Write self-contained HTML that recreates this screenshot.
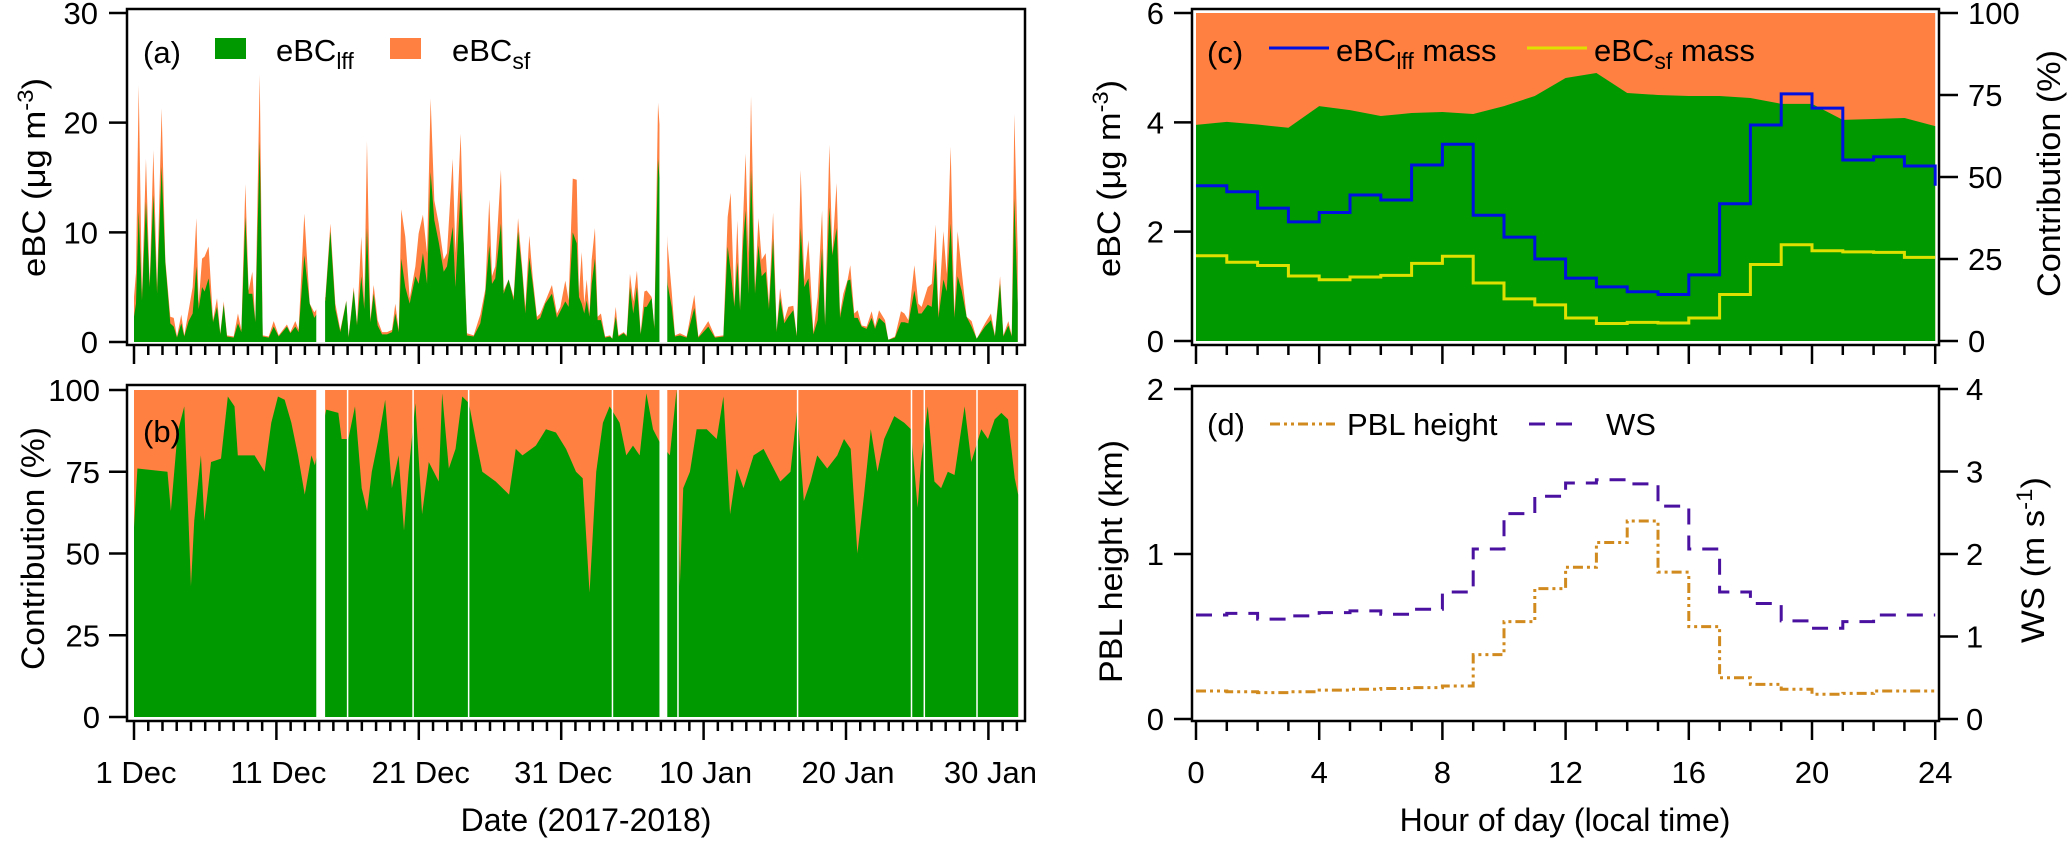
<!DOCTYPE html>
<html><head><meta charset="utf-8"><style>
html,body{margin:0;padding:0;background:#fff;}
svg{display:block;font-family:"Liberation Sans",Arial,sans-serif;}
</style></head><body>
<svg id="fig" width="2067" height="841" viewBox="0 0 2067 841" xmlns="http://www.w3.org/2000/svg">
<g id="layer"></g>
</svg>
<script>
// ---------- data ----------
const aDays = [0.0,0.14,0.33,0.56,0.84,1.10,1.36,1.62,1.94,2.20,2.55,2.79,3.02,3.32,3.53,3.84,4.12,4.38,4.54,4.78,4.96,5.24,5.55,5.83,6.06,6.30,6.53,7.00,7.30,7.54,7.82,8.05,8.31,8.52,8.83,9.04,9.46,9.81,10.16,10.74,10.98,11.33,11.56,11.96,12.34,12.66,
13.44,13.79,14.14,14.49,14.91,15.07,15.43,15.66,15.96,16.17,16.36,16.60,16.83,17.11,17.42,17.77,18.12,18.35,18.59,18.77,19.05,19.36,19.76,19.99,20.29,20.58,20.83,21.09,21.40,21.75,21.98,22.38,22.57,22.94,23.15,23.38,23.85,24.32,24.67,24.95,25.14,25.37,25.77,25.96,26.31,26.66,26.97,27.25,27.48,27.76,28.00,28.30,28.53,28.88,29.35,29.70,29.94,30.29,30.52,30.81,
31.09,31.25,31.44,31.62,31.79,31.98,32.14,32.37,32.56,32.79,33.08,33.43,33.59,33.83,34.02,34.39,34.60,34.83,35.06,35.32,35.58,35.84,36.00,36.35,36.54,36.80,
37.48,37.76,37.99,38.34,38.81,39.35,39.63,40.33,40.80,41.39,41.69,41.90,42.16,42.37,42.56,42.79,42.95,43.14,43.33,43.61,43.85,44.08,44.36,44.59,44.88,45.13,45.37,45.67,45.95,46.30,46.54,46.82,47.07,47.36,47.71,48.01,48.32,48.53,48.83,49.04,49.34,49.58,49.81,50.12,50.30,50.58,50.82,51.10,51.45,51.80,52.04,52.32,52.74,52.97,53.44,53.86,54.10,54.38,54.80,55.08,55.31,55.74,56.02,56.30,56.49,56.84,57.07,57.35,57.61,57.84,58.12,58.47,58.82,59.18,59.76,60.18,60.46,60.82,61.05,61.40,61.64,61.82,62.06];
const aTotal = [4.1,6.3,23.4,4.4,16.7,5.3,17.5,5.0,21.3,7.5,2.3,2.2,0.5,2.5,0.6,2.9,5.0,11.3,3.5,7.6,7.8,8.7,2.0,4.0,0.8,3.7,0.6,0.5,2.6,1.1,14.4,4.7,6.4,2.0,24.4,0.6,0.5,1.9,0.6,1.6,0.9,1.9,1.1,11.7,3.5,2.7,
4.1,10.8,3.5,1.1,3.8,0.5,5.0,1.7,9.6,3.5,18.3,2.0,5.2,2.0,0.9,0.9,1.1,3.5,1.1,12.1,9.6,4.0,6.9,9.9,11.6,8.1,22.2,12.9,10.8,7.5,8.1,16.7,8.1,19.0,9.3,0.8,0.6,2.5,4.8,13.0,6.0,6.9,15.7,4.7,5.7,4.1,11.3,7.0,3.2,9.7,5.9,2.3,2.6,3.7,5.2,2.6,3.2,5.6,3.8,14.9,
14.8,4.4,8.2,3.5,5.7,2.6,7.5,10.4,2.3,2.6,0.5,0.6,0.3,3.2,0.6,0.9,0.6,6.2,3.7,6.5,0.8,4.6,4.7,4.1,1.4,21.8,
8.8,4.6,0.6,0.8,0.5,4.3,0.5,1.9,0.5,0.6,11.4,13.6,3.5,11.1,3.2,11.8,17.2,8.1,22.4,5.0,11.3,7.5,8.1,3.5,11.8,1.1,4.9,2.0,3.2,3.3,0.6,15.7,5.6,9.3,0.9,4.1,12.0,1.7,18.0,8.1,14.5,2.6,4.4,5.7,7.0,2.6,2.9,1.5,1.4,2.8,1.4,2.9,2.0,0.2,0.5,2.8,2.6,2.0,7.0,3.5,3.2,5.0,5.3,10.7,2.6,10.1,6.2,17.8,2.6,10.1,6.5,2.3,1.9,0.3,1.7,2.6,0.6,6.0,0.6,1.9,0.6,20.8,8.1];
const aLff = [2.3,3.5,11.9,3.8,12.8,5.0,13.4,4.4,16.0,7.2,1.7,1.4,0.4,1.7,0.5,1.9,2.6,6.9,3.0,5.0,4.6,5.8,1.8,3.2,0.7,3.4,0.5,0.4,1.7,0.9,11.4,4.4,4.4,1.8,18.3,0.5,0.4,1.4,0.5,1.4,0.8,1.4,0.9,7.9,3.5,2.2,
3.8,10.1,3.0,0.9,3.7,0.4,4.7,1.5,6.0,3.0,10.4,1.8,4.4,1.5,0.7,0.7,0.9,2.6,0.9,7.6,5.0,3.5,6.0,5.3,8.1,5.3,15.5,11.1,9.1,6.4,6.9,10.5,5.0,13.9,9.0,0.6,0.5,1.7,4.4,8.8,5.3,5.8,10.8,4.4,5.7,3.8,10.1,6.5,2.6,7.7,5.3,2.0,2.2,3.5,4.4,2.2,2.8,3.7,3.2,10.0,
9.0,4.1,3.5,2.6,3.8,2.3,5.3,7.6,2.0,2.0,0.4,0.5,0.3,2.3,0.5,0.8,0.5,5.0,2.6,5.0,0.7,3.2,3.2,4.0,1.2,16.7,
5.2,3.2,0.5,0.6,0.4,3.1,0.4,1.4,0.4,0.5,8.7,6.5,3.2,7.3,2.9,9.3,12.0,4.4,15.7,4.4,8.8,6.0,6.4,3.0,9.4,0.9,4.0,1.7,2.3,2.9,0.5,10.4,5.0,5.8,0.7,2.0,8.5,1.5,12.3,7.9,10.4,2.2,3.7,5.6,5.7,2.2,2.2,1.4,1.2,2.2,1.2,2.2,1.7,0.2,0.4,1.8,1.8,1.7,4.7,2.6,2.6,3.4,3.2,7.6,2.2,5.7,4.6,10.8,2.2,6.0,4.7,2.3,1.4,0.3,1.4,2.0,0.5,5.3,0.5,1.5,0.5,13.1,3.5];
const bDays = [0.0,0.24,2.35,2.59,3.06,3.53,4.0,4.23,4.70,4.94,5.41,6.11,6.59,7.06,7.29,8.47,9.17,9.64,10.11,10.58,11.05,11.52,11.99,12.46,12.70,13.50,14.35,14.58,15.05,15.52,15.99,16.37,16.70,17.17,17.64,18.11,18.58,18.96,19.28,19.76,20.23,20.70,21.40,21.64,22.11,22.58,23.05,23.52,23.99,24.46,25.40,26.34,26.81,27.28,28.22,28.93,29.63,30.34,31.04,31.51,31.99,32.46,32.93,33.40,34.10,34.57,35.04,35.51,35.98,36.45,36.92,37.63,38.10,38.33,38.57,39.04,39.51,40.22,40.92,41.39,41.86,42.33,42.80,43.51,44.21,44.68,45.39,46.10,46.57,47.04,47.51,47.98,48.68,49.39,49.86,50.33,50.80,51.27,51.74,52.21,52.68,53.39,54.09,54.56,55.03,55.27,55.74,56.21,56.68,57.15,57.62,58.33,58.80,59.50,59.97,60.44,60.91,61.38,61.85,62.09];
const bLff = [58,76,75,63,87,95,40,60,80,60,78,79,98,95,80,80,75,90,98,97,90,80,68,80,77,94,93,85,85,95,70,63,75,85,97,70,80,57,75,96,62,78,72,99,76,82,98,96,85,75,72,68,82,80,83,88,87,82,75,73,38,75,90,95,90,80,83,80,99,88,84,80,100,40,70,75,88,88,85,98,62,76,70,80,82,78,72,75,94,66,72,80,76,80,85,82,50,68,88,75,85,92,90,88,64,78,95,72,70,75,74,95,78,88,85,91,93,91,73,68];
const gaps = [[12.8,13.42],[36.9,37.45]];
const whiteLines = [15.0,19.6,23.5,33.6,38.2,46.6,54.6,55.5,59.2];
const dateTicks = ["1 Dec","11 Dec","21 Dec","31 Dec","10 Jan","20 Jan","30 Jan"];
const hours = [0,1,2,3,4,5,6,7,8,9,10,11,12,13,14,15,16,17,18,19,20,21,22,23];
const cLffMass = [2.84,2.73,2.43,2.18,2.35,2.67,2.58,3.22,3.60,2.30,1.90,1.50,1.15,0.99,0.90,0.85,1.21,2.51,3.95,4.52,4.26,3.31,3.37,3.20];
const cSfMass = [1.56,1.44,1.38,1.19,1.12,1.17,1.20,1.42,1.55,1.06,0.77,0.66,0.42,0.32,0.34,0.33,0.42,0.85,1.40,1.76,1.65,1.63,1.62,1.53];
const cLffPct = [65.9,66.8,66.0,65.0,71.6,70.4,68.6,69.5,69.8,69.2,71.6,74.7,80.2,81.7,75.6,75.0,74.7,74.7,74.1,72.3,72.3,67.4,67.7,68.0,65.5];
const dPbl = [0.17,0.165,0.16,0.165,0.175,0.18,0.185,0.19,0.20,0.39,0.59,0.79,0.92,1.07,1.20,0.89,0.56,0.25,0.21,0.18,0.15,0.155,0.17,0.17];
const dWs = [1.26,1.28,1.21,1.25,1.29,1.31,1.27,1.33,1.54,2.06,2.49,2.70,2.86,2.90,2.85,2.58,2.06,1.54,1.40,1.19,1.10,1.18,1.26,1.26];
const aTicks = [0,10,20,30];
const bTicks = [0,25,50,75,100];
const cTicks = [0,2,4,6];
const dTicks = [0,1,2];
const wsTicks = [0,1,2,3,4];
const hourTicks = [0,4,8,12,16,20,24];

// ---------- scales ----------
const xa = d => 134 + d*14.24;
const ya = v => 342 - v*10.967;
const yb = p => 717 - p*3.27;
const xc = h => 1196 + h*30.8;
const yc = v => 341 - v*54.67;
const ycp = p => 341 - p*3.28;
const yd = v => 719 - v*165;
const yw = v => 719 - v*82.5;

const NS = "http://www.w3.org/2000/svg";
const L = document.getElementById('layer');
function mk(tag, attrs, parent){ const e=document.createElementNS(NS,tag); for(const k in attrs) e.setAttribute(k,attrs[k]); (parent||L).appendChild(e); return e; }
const GREEN="#009900", ORANGE="#ff8040";

// ---------- panel a ----------
let pts = [xa(aDays[0])+","+ya(0)];
for(let i=0;i<aDays.length;i++) pts.push(xa(aDays[i])+","+ya(aTotal[i]));
pts.push(xa(aDays[aDays.length-1])+","+ya(0));
let e = mk('polygon',{points:pts.join(' '),fill:ORANGE});


pts = [xa(aDays[0])+","+ya(0)];
for(let i=0;i<aDays.length;i++) pts.push(xa(aDays[i])+","+ya(aLff[i]));
pts.push(xa(aDays[aDays.length-1])+","+ya(0));
e = mk('polygon',{points:pts.join(' '),fill:GREEN});


gaps.forEach(g=>{
  const r = mk('rect',{x:xa(g[0]),y:12,width:xa(g[1])-xa(g[0]),height:331,fill:'#fff'});
  
  
});

// ---------- panel b ----------
e = mk('rect',{x:xa(0),y:yb(100),width:xa(62.09)-xa(0),height:yb(0)-yb(100),fill:ORANGE});


pts = [xa(bDays[0])+","+yb(0)];
for(let i=0;i<bDays.length;i++) pts.push(xa(bDays[i])+","+yb(bLff[i]));
pts.push(xa(bDays[bDays.length-1])+","+yb(0));
e = mk('polygon',{points:pts.join(' '),fill:GREEN});


gaps.forEach(g=>{
  const r = mk('rect',{x:xa(g[0]),y:388,width:xa(g[1])-xa(g[0]),height:331,fill:'#fff'});
  
  
});
whiteLines.forEach(d=>{
  const l = mk('line',{x1:xa(d),x2:xa(d),y1:yb(100),y2:yb(0),stroke:'#fff','stroke-width':1.5});
  
  
});

// ---------- panel c ----------
e = mk('rect',{x:xc(0),y:ycp(100),width:xc(24)-xc(0),height:ycp(0)-ycp(100),fill:ORANGE});


pts = [xc(0)+","+ycp(0)];
cLffPct.forEach((p,i)=>pts.push(xc(i)+","+ycp(p)));
pts.push(xc(24)+","+ycp(0));
e = mk('polygon',{points:pts.join(' '),fill:GREEN});


function stepPath(vals, yf, closeToFirst){
  let d = "M"+xc(hours[0])+","+yf(vals[0]);
  for(let i=0;i<vals.length;i++){ d += " V"+yf(vals[i])+" H"+xc(hours[i]+1); }
  if(closeToFirst) d += " V"+yf(vals[0]);
  return d;
}
e = mk('path',{d:stepPath(cLffMass,yc,true),fill:'none',stroke:'#0010e0','stroke-width':3});


e = mk('path',{d:stepPath(cSfMass,yc,false),fill:'none',stroke:'#e0e000','stroke-width':3});



// ---------- panel d ----------
e = mk('path',{d:stepPath(dPbl,yd,false),fill:'none',stroke:'#d08a1e','stroke-width':3,'stroke-dasharray':'10 4 3 4 3 4'});


e = mk('path',{d:stepPath(dWs,yw,false),fill:'none',stroke:'#4a10a0','stroke-width':3,'stroke-dasharray':'16 11'});



// ---------- frames ----------
[[127,9,898,336,'frame-a'],[127,385,898,336,'frame-b'],[1192,9,747,336,'frame-c'],[1192,386,747,335,'frame-d']].forEach(f=>{
  const r = mk('rect',{x:f[0],y:f[1],width:f[2],height:f[3],fill:'none',stroke:'#000','stroke-width':2.5});
  
  
});

// ---------- axes ----------
function txt(x,y,s,anchor,size,name){
  const t = mk('text',{x:x,y:y,'text-anchor':anchor,'font-size':size,fill:'#000'});
  t.textContent = s;
  
  
  return t;
}
function ytick(x1,x2,y,name){
  const l = mk('line',{x1:x1,x2:x2,y1:y,y2:y,stroke:'#000','stroke-width':2.5});
  
  
}
aTicks.forEach(v=>{ ytick(109,127,ya(v),'y-tick-a'); txt(98,ya(v)+11,String(v),'end',31,'y-tick-label-a'); });
bTicks.forEach(v=>{ ytick(109,127,yb(v),'y-tick-b'); txt(100,yb(v)+11,String(v),'end',31,'y-tick-label-b'); });
cTicks.forEach(v=>{ ytick(1174,1192,yc(v),'y-tick-c'); txt(1164,yc(v)+11,String(v),'end',31,'y-tick-label-c'); });
bTicks.forEach(v=>{ ytick(1939,1958,ycp(v),'y2-tick-c'); txt(1968,ycp(v)+11,String(v),'start',31,'y2-tick-label-c'); });
dTicks.forEach(v=>{ ytick(1174,1192,yd(v),'y-tick-d'); txt(1164,yd(v)+11,String(v),'end',31,'y-tick-label-d'); });
wsTicks.forEach(v=>{ ytick(1939,1958,yw(v),'y2-tick-d'); txt(1966,yw(v)+11,String(v),'start',31,'y2-tick-label-d'); });
function xtick(x,y0,len,name){
  const l = mk('line',{x1:x,x2:x,y1:y0,y2:y0+len,stroke:'#000','stroke-width':2.5});
  
  
}
for(let d=0; d<=62; d++){ const maj = d%10===0; xtick(xa(d),345,maj?19:10,'x-tick-a'); xtick(xa(d),721,maj?19:10,'x-tick-b'); }
dateTicks.forEach((s,i)=>txt(xa(i*10)+2,783,s,'middle',31,'date-tick-label'));
for(let h=0; h<=24; h++){ const maj = h%4===0; xtick(xc(h),345,maj?19:10,'hour-tick-c'); xtick(xc(h),721,maj?19:10,'hour-tick-d'); }
hourTicks.forEach(h=>txt(xc(h),783,String(h),'middle',31,'hour-tick-label'));
</script>
<!-- static text -->
<svg style="position:absolute;left:0;top:0" width="2067" height="841" viewBox="0 0 2067 841" xmlns="http://www.w3.org/2000/svg" font-family="Liberation Sans, Arial, sans-serif">
  <!-- legend a -->
  <text x="143" y="63" font-size="31">(a)</text>
  <rect x="215" y="38" width="31" height="21" fill="#009900"/>
  <text x="276" y="61" font-size="31">eBC<tspan baseline-shift="-8" font-size="23">lff</tspan></text>
  <rect x="390" y="38" width="31" height="21" fill="#ff8040"/>
  <text x="452" y="61" font-size="31">eBC<tspan baseline-shift="-8" font-size="23">sf</tspan></text>
  <text x="143" y="442" font-size="31">(b)</text>
  <!-- legend c -->
  <text x="1207" y="63" font-size="31">(c)</text>
  <line x1="1269" y1="48" x2="1329" y2="48" stroke="#0010e0" stroke-width="3"/>
  <text x="1336" y="61" font-size="31">eBC<tspan baseline-shift="-8" font-size="23">lff</tspan> mass</text>
  <line x1="1527" y1="48" x2="1587" y2="48" stroke="#e0e000" stroke-width="3"/>
  <text x="1594" y="61" font-size="31">eBC<tspan baseline-shift="-8" font-size="23">sf</tspan> mass</text>
  <!-- legend d -->
  <text x="1207" y="435" font-size="31">(d)</text>
  <line x1="1270" y1="424" x2="1335" y2="424" stroke="#d08a1e" stroke-width="3" stroke-dasharray="10 4 3 4 3 4"/>
  <text x="1347" y="435" font-size="31">PBL height</text>
  <line x1="1529" y1="424" x2="1583" y2="424" stroke="#4a10a0" stroke-width="3" stroke-dasharray="16 11"/>
  <text x="1606" y="435" font-size="31">WS</text>
  <!-- axis titles -->
  <text transform="translate(45,277) rotate(-90)" x="0" y="0" font-size="32" textLength="199" lengthAdjust="spacingAndGlyphs">eBC (μg m<tspan baseline-shift="12" font-size="22">-3</tspan>)</text>
  <text transform="translate(44,670) rotate(-90)" x="0" y="0" font-size="32" textLength="243" lengthAdjust="spacingAndGlyphs">Contribution (%)</text>
  <text transform="translate(1120,277) rotate(-90)" x="0" y="0" font-size="32" textLength="197" lengthAdjust="spacingAndGlyphs">eBC (μg m<tspan baseline-shift="12" font-size="22">-3</tspan>)</text>
  <text transform="translate(2060,297) rotate(-90)" x="0" y="0" font-size="32" textLength="247" lengthAdjust="spacingAndGlyphs">Contribution (%)</text>
  <text transform="translate(1122,683) rotate(-90)" x="0" y="0" font-size="32" textLength="243" lengthAdjust="spacingAndGlyphs">PBL height (km)</text>
  <text transform="translate(2044,643) rotate(-90)" x="0" y="0" font-size="32" textLength="166" lengthAdjust="spacingAndGlyphs">WS (m s<tspan baseline-shift="12" font-size="22">-1</tspan>)</text>
  <text x="586" y="831" text-anchor="middle" font-size="32">Date (2017-2018)</text>
  <text x="1565" y="831" text-anchor="middle" font-size="32">Hour of day (local time)</text>
</svg>
</body></html>
